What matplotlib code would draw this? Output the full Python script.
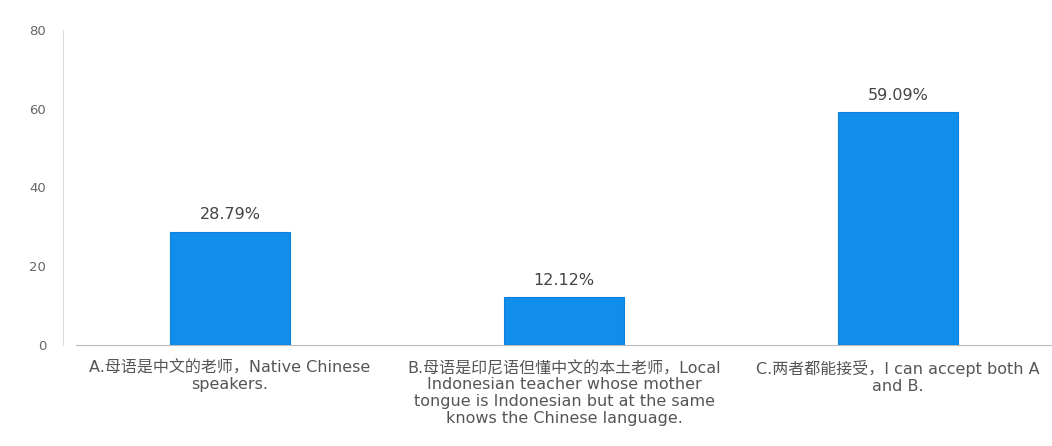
import matplotlib
matplotlib.use("Agg")
import matplotlib.pyplot as plt

plt.rcParams['font.family'] = ['DejaVu Sans', 'Noto Sans CJK SC']

# survey answers and their shares (%)
categories = [
    "A.母语是中文的老师，Native Chinese\nspeakers.",
    "B.母语是印尼语但懂中文的本土老师，Local\nIndonesian teacher whose mother\ntongue is Indonesian but at the same\nknows the Chinese language.",
    "C.两者都能接受，I can accept both A\nand B.",
]
values = [28.79, 12.12, 59.09]
yticks = [0, 20, 40, 60, 80]

fig = plt.figure(figsize=(10.52, 4.46), dpi=100)
ax = fig.add_axes([0.0599, 0.2265, 0.9401, 0.7063])

x = list(range(len(values)))
bars = ax.bar(x, values, width=0.36, color='#118DEC', edgecolor='#0E80D8', linewidth=0.8, zorder=3)

for b, v in zip(bars, values):
    ax.annotate(f"{v:.2f}%", (b.get_x() + b.get_width() / 2, v),
                xytext=(0, 7), textcoords='offset points',
                ha='center', va='bottom', fontsize=11.5, color='#444444')

ax.set_xlim(-0.5, 2.46)
ax.set_ylim(0, 80)
ax.set_yticks(yticks)
ax.set_yticklabels([str(t) for t in yticks], fontsize=9.5, color='#666666')
ax.set_xticks(x)
ax.set_xticklabels(categories, fontsize=11.5, color='#555555', linespacing=1.13)
ax.tick_params(axis='y', length=0, pad=12)
ax.tick_params(axis='x', length=0, pad=11)

for s in ['top', 'right']:
    ax.spines[s].set_visible(False)
ax.spines['left'].set_color('#dddddd')
ax.spines['left'].set_linewidth(0.8)
ax.spines['bottom'].set_color('#bbbbbb')
ax.spines['bottom'].set_linewidth(0.8)
ax.spines['bottom'].set_bounds(-0.46, 2.46)

fig.savefig('out.png', dpi=100, facecolor='white')
